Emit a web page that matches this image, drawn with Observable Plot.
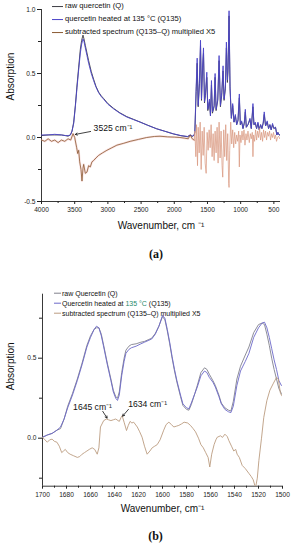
<!DOCTYPE html>
<html><head><meta charset="utf-8">
<script src="https://cdn.jsdelivr.net/npm/d3@7"></script>
<script src="https://cdn.jsdelivr.net/npm/@observablehq/plot@0.6"></script>
<style>
html,body{margin:0;padding:0;background:#fff;}
#wrap{position:relative;width:294px;height:550px;overflow:hidden;font-family:'Liberation Sans',Arial,sans-serif;color:#222;}
#wrap svg{display:block;}
.abs{position:absolute;}
.leg{position:absolute;white-space:nowrap;line-height:1;}
</style>
</head><body>
<div id="wrap"></div>
<script>
// ---------- Panel (a): full range spectra ----------
const aWn = [
4000,3900,3800,3700,3640,3600,3565,3540,3515,3490,
3465,3440,3415,3395,3375,3360,3340,3315,3290,3250,
3215,3180,3140,3100,3065,3000,2915,2820,2715,2615,
2515,2400,2265,2150,2015,1900,1800,1760,1730,1700,
1690,1670,1655,1640,1620,1605,1590,1575,1560,1545,
1530,1510,1495,1470,1455,1440,1425,1400,1385,1370,
1345,1325,1305,1285,1265,1250,1230,1215,1200,1190,
1175,1160,1140,1120,1100,1080,1060,1040,1020,1005,
985,965,945,930,915,890,860,840,815,800,
780,760,740,720,700,680,660,645,625,600,
580,560,540,520,500,475,455,440,420,400];
const aRaw = [
0.015,0.02,0.02,0.02,0.015,0.01,0.02,0.05,0.12,0.25,
0.41,0.55,0.69,0.76,0.80,0.77,0.72,0.66,0.60,0.515,
0.455,0.40,0.355,0.325,0.305,0.265,0.228,0.193,0.163,0.142,
0.121,0.096,0.068,0.05,0.028,0.014,0.006,0.018,0.008,0.018,
0.04,0.36,0.58,0.24,0.42,0.72,0.29,0.52,0.66,0.27,
0.33,0.47,0.21,0.28,0.17,0.41,0.19,0.24,0.47,0.21,
0.29,0.60,0.24,0.33,0.52,0.29,0.38,0.70,0.43,0.52,
0.95,0.38,0.15,0.25,0.12,0.17,0.10,0.13,0.31,0.10,
0.12,0.07,0.11,0.20,0.08,0.10,0.14,0.07,0.24,0.10,
0.11,0.07,0.11,0.06,0.10,0.07,0.11,0.18,0.09,0.12,
0.07,0.10,0.06,0.10,0.07,0.08,0.02,0.04,0.02,0.02];
const aQ135 = [
0.02,0.02,0.025,0.02,0.015,0.015,0.02,0.05,0.11,0.24,
0.39,0.53,0.66,0.73,0.77,0.75,0.70,0.64,0.58,0.50,
0.445,0.395,0.35,0.32,0.30,0.26,0.224,0.19,0.16,0.14,
0.12,0.095,0.068,0.05,0.029,0.015,0.008,0.02,0.01,0.02,
0.05,0.40,0.62,0.25,0.45,0.76,0.30,0.55,0.70,0.28,
0.35,0.51,0.22,0.30,0.17,0.445,0.20,0.25,0.50,0.22,
0.30,0.64,0.25,0.35,0.56,0.30,0.40,0.745,0.45,0.55,
0.99,0.40,0.15,0.265,0.12,0.18,0.10,0.14,0.34,0.10,
0.13,0.07,0.12,0.22,0.08,0.10,0.15,0.07,0.265,0.10,
0.12,0.07,0.12,0.06,0.10,0.07,0.12,0.20,0.09,0.13,
0.07,0.10,0.06,0.11,0.07,0.08,0.02,0.04,0.02,0.02];
const aSubWn = [
4000,3950,3900,3850,3800,3750,3700,3650,3600,3560,
3525,3500,3470,3455,3440,3425,3405,3390,3375,3365,
3340,3315,3290,3265,3240,3215,3180,3140,3080,3015,
2940,2865,2760,2665,2540,2415,2300,2215,2100,2000,
1915,1850,1790,1760,1730,1700,1690,1675,1665,1650,
1640,1625,1610,1595,1580,1565,1550,1535,1520,1505,
1490,1475,1460,1445,1430,1415,1400,1385,1370,1355,
1340,1325,1310,1295,1280,1270,1255,1240,1225,1210,
1195,1180,1175,1165,1150,1135,1120,1105,1090,1075,
1060,1045,1030,1020,1010,995,980,965,950,935,
920,905,890,870,855,840,825,815,805,790,
775,760,745,730,715,700,685,670,655,640,
625,610,595,580,565,550,535,520,505,490,
475,460,445,430,410,400];
const aSub = [
-0.02,-0.03,-0.01,-0.03,-0.02,-0.04,-0.02,-0.03,-0.01,-0.02,
0.03,0.0,-0.08,-0.125,-0.10,-0.19,-0.25,-0.34,-0.24,-0.21,
-0.28,-0.27,-0.22,-0.23,-0.19,-0.18,-0.16,-0.14,-0.12,-0.10,
-0.08,-0.06,-0.045,-0.03,-0.015,0.0,0.008,0.01,0.005,0.003,
0.0,-0.005,-0.01,0.02,-0.01,-0.02,0.05,-0.15,0.10,-0.22,
0.08,-0.12,0.12,-0.25,0.05,-0.14,0.08,-0.20,-0.28,0.04,
-0.10,0.06,-0.08,0.10,-0.15,0.03,-0.18,0.05,-0.12,0.08,
-0.20,0.12,-0.16,0.05,-0.22,-0.31,0.06,-0.15,0.10,-0.18,
0.03,-0.36,-0.39,-0.10,0.12,-0.05,0.06,-0.08,0.04,-0.05,
0.02,-0.03,0.05,-0.23,0.02,-0.04,0.05,-0.02,0.06,-0.06,
0.03,-0.02,0.05,-0.04,0.03,-0.01,0.04,-0.15,0.02,-0.03,
0.06,-0.02,0.05,0.0,0.07,-0.02,0.04,-0.03,0.06,0.0,
0.05,-0.02,0.04,0.01,0.05,-0.02,0.03,0.0,0.04,-0.01,
0.02,-0.03,0.0,0.01,-0.01,0.0];
const aXTicks = [4000,3500,3000,2500,2000,1500,1000,500];
const aXMinor = [3750,3250,2750,2250,1750,1250,750];
const aYTicks = [-0.5,0,0.5,1.0];
const aYMinor = [-0.25,0.25,0.75];
const aLabels = ["raw quercetin (Q)","quercetin heated at 135 °C (Q135)","subtracted spectrum (Q135–Q) multiplied X5"];
const aNote = [{x: 3215, y: 0.072, text: "3525 cm⁻¹"}];
const aArrow = [{x1: 3260, y1: 0.047, x2: 3490, y2: 0.024}];

// ---------- Panel (b): 1700–1500 region ----------
const bWn = [
1700,1696,1692,1688,1685,1682,1679,1675,1671,1667,
1663,1660,1657,1655,1653,1651,1649,1646,1643,1641,
1639,1637.5,1636,1634,1632,1630.5,1628,1626,1622,1618,
1615,1612,1609,1606,1603,1600,1598,1596,1594,1592,
1590,1588,1585,1583,1580,1578,1576,1573,1571,1568,
1565,1563,1561,1558,1556,1553,1551,1548,1545,1543,
1541,1538,1535,1531,1528,1524,1520,1517,1515,1513,
1511,1509,1507,1505,1503,1501,1500];
const bRaw = [
0.006,0.02,0.03,0.05,0.06,0.12,0.20,0.28,0.37,0.47,
0.58,0.64,0.68,0.69,0.69,0.65,0.58,0.47,0.37,0.30,
0.26,0.25,0.29,0.41,0.50,0.55,0.575,0.585,0.59,0.60,
0.605,0.615,0.625,0.655,0.70,0.76,0.74,0.67,0.59,0.50,
0.42,0.35,0.26,0.205,0.18,0.175,0.21,0.28,0.33,0.41,
0.44,0.43,0.40,0.36,0.33,0.27,0.22,0.19,0.175,0.17,
0.23,0.37,0.45,0.52,0.57,0.66,0.71,0.72,0.71,0.65,
0.58,0.50,0.43,0.37,0.31,0.28,0.27];
const bQ135 = [
0.006,0.02,0.03,0.05,0.07,0.12,0.19,0.27,0.36,0.46,
0.57,0.63,0.68,0.70,0.69,0.64,0.57,0.46,0.36,0.29,
0.25,0.236,0.27,0.39,0.48,0.53,0.555,0.565,0.575,0.59,
0.60,0.61,0.62,0.65,0.70,0.767,0.75,0.68,0.60,0.51,
0.43,0.36,0.27,0.215,0.19,0.184,0.22,0.28,0.32,0.39,
0.42,0.41,0.38,0.35,0.32,0.26,0.215,0.18,0.165,0.16,
0.20,0.33,0.42,0.48,0.53,0.63,0.69,0.72,0.725,0.69,
0.63,0.56,0.49,0.43,0.36,0.33,0.33];
const bSubWn = [
1700,1698,1696,1694,1692,1690,1688,1686,1684,1682.5,
1681,1679,1677,1674,1671,1669,1667,1665,1663,1661,
1658.6,1656.5,1654.4,1653,1651.7,1649,1646.7,1645,1643,1641,
1639,1637,1636,1634.5,1633.6,1632,1630,1628.5,1627,1625.5,
1624,1621,1619,1617,1615,1612.8,1610.5,1608.6,1606.5,1604.4,
1602,1599,1597,1594.7,1592.5,1590.6,1588.5,1586.4,1584,1582,
1579,1576.7,1574.5,1572.5,1570,1568,1566,1564,1562,1560.6,
1559,1557,1555.5,1554.4,1551.7,1550,1548,1546,1544.7,1542.5,
1540.6,1539,1537.8,1536,1533.6,1531,1528,1526,1524.4,1522.5,
1521,1519.7,1517.5,1515.6,1513,1510.5,1507.8,1505,1503.5,1501.7,
1500];
const bSub = [
0.006,-0.01,-0.025,-0.01,-0.006,-0.02,-0.025,-0.05,-0.09,-0.08,
-0.07,-0.09,-0.10,-0.11,-0.12,-0.115,-0.10,-0.09,-0.08,-0.07,
-0.06,-0.07,-0.10,-0.06,0.07,0.11,0.12,0.115,0.11,0.115,
0.12,0.11,0.105,0.13,0.14,0.10,0.048,0.08,0.105,0.095,
0.10,0.07,0.04,0.006,-0.05,-0.10,-0.08,-0.06,-0.05,-0.04,
-0.01,0.05,0.085,0.10,0.085,0.07,0.075,0.08,0.09,0.10,
0.095,0.08,0.06,0.04,0.0,-0.04,-0.06,-0.09,-0.12,-0.18,
-0.10,-0.04,-0.01,0.006,0.015,0.005,0.025,0.01,-0.015,-0.05,
-0.08,-0.07,-0.10,-0.12,-0.17,-0.19,-0.22,-0.24,-0.26,-0.31,
-0.25,-0.14,0.0,0.13,0.236,0.30,0.34,0.38,0.37,0.28,
0.26];
const bXTicks = [1700,1680,1660,1640,1620,1600,1580,1560,1540,1520,1500];
const bXMinor = [1690,1670,1650,1630,1610,1590,1570,1550,1530,1510];
const bYTicks = [0,0.5];
const bYMinor = [-0.25,0.25,0.75];
const bLabels = ["raw Quercetin (Q)","Quercetin heated at 135 °C (Q135)","subtracted spectrum (Q135–Q) multiplied X5"];
const bNotes = [{x: 1674.5, y: 0.194, text: "1645 cm⁻¹"}, {x: 1628.6, y: 0.212, text: "1634 cm⁻¹"}];
const bArrows = [{x1: 1649.8, y1: 0.168, x2: 1646.2, y2: 0.126}, {x1: 1628.4, y1: 0.18, x2: 1633.2, y2: 0.138}];

const colA = {raw: "#3c3c44", q135: "#4b44c8", sub: "#8a5a32", subFp: "#d99a82", halo: "#f2a8a8"};
const colB = {raw: "#80808c", q135: "#6c69c8", sub: "#bb9c80"};

const pairs = (xs, ys) => xs.slice(0, Math.min(xs.length, ys.length)).map((x, i) => ({x, y: ys[i]}));
const fmt1 = d => d.toFixed(1);
const font = "'Liberation Sans', Arial, sans-serif";
const aSubAll = pairs(aSubWn, aSub);
const aSubHigh = aSubAll.filter(d => d.x >= 1700);
const aSubLow = aSubAll.filter(d => d.x <= 1700);

const wrap = document.getElementById("wrap");

// Panel (a)
const plotA = Plot.plot({
  width: 294, height: 270,
  marginLeft: 41, marginRight: 14, marginTop: 9, marginBottom: 69,
  x: {domain: [4000, 400], label: null},
  y: {domain: [-0.5, 1.0], label: null},
  style: {fontFamily: font, fontSize: "6.6px", color: "#222", background: "transparent", overflow: "visible"},
  marks: [
    Plot.axisX({ticks: aXTicks, tickSize: 3, tickPadding: 3, tickFormat: d => String(d), label: null}),
    Plot.axisX({ticks: aXMinor, tickSize: 2, tickFormat: () => "", label: null}),
    Plot.axisY({ticks: aYTicks, tickSize: 4, tickPadding: 2, tickFormat: fmt1, label: null}),
    Plot.axisY({ticks: aYMinor, tickSize: 3, tickFormat: () => "", label: null}),
    Plot.ruleX([4000], {stroke: "#222", strokeWidth: 0.9}),
    Plot.ruleY([-0.5], {stroke: "#222", strokeWidth: 0.9}),
    Plot.line(aSubHigh, {x: "x", y: "y", stroke: colA.halo, strokeWidth: 2.2, strokeOpacity: 0.35, clip: true}),
    Plot.line(pairs(aWn, aRaw), {x: "x", y: "y", stroke: colA.raw, strokeWidth: 0.9, clip: true}),
    Plot.line(pairs(aWn, aQ135), {x: "x", y: "y", stroke: colA.q135, strokeWidth: 0.9, clip: true}),
    Plot.line(aSubHigh, {x: "x", y: "y", stroke: colA.sub, strokeWidth: 0.8, clip: true}),
    Plot.line(aSubLow, {x: "x", y: "y", stroke: colA.subFp, strokeWidth: 0.75, clip: true}),
    Plot.arrow(aArrow, {x1: "x1", y1: "y1", x2: "x2", y2: "y2", stroke: "#111", strokeWidth: 0.8, headLength: 4}),
    Plot.text(aNote, {x: "x", y: "y", text: "text", textAnchor: "start", fontSize: 8.6, fill: "#111"}),
    Plot.text(["Absorption"], {frameAnchor: "left", rotate: -90, dx: -31, dy: -5, fontSize: 10, fill: "#111"}),
    Plot.text(["Wavenumber, cm ⁻¹"], {frameAnchor: "bottom", dy: 27, fontSize: 10, fill: "#111"}),
    Plot.text(["(a)"], {frameAnchor: "bottom", dx: -5, dy: 56, fontSize: 12, fontWeight: "bold", fontFamily: "'Liberation Serif', 'Times New Roman', serif", fill: "#111"})
  ]
});
plotA.classList.add("abs");
plotA.style.left = "0px"; plotA.style.top = "0px";
wrap.appendChild(plotA);

// Panel (b)
const plotB = Plot.plot({
  width: 294, height: 280,
  marginLeft: 42, marginRight: 12, marginTop: 23.7, marginBottom: 64.3,
  x: {domain: [1700, 1500], label: null},
  y: {domain: [-0.3, 0.9], label: null},
  style: {fontFamily: font, fontSize: "6.6px", color: "#222", background: "transparent", overflow: "visible"},
  marks: [
    Plot.axisX({ticks: bXTicks, tickSize: 3, tickPadding: 3, tickFormat: d => String(d), label: null}),
    Plot.axisX({ticks: bXMinor, tickSize: 2, tickFormat: () => "", label: null}),
    Plot.axisY({ticks: bYTicks, tickSize: 4, tickPadding: 2, tickFormat: fmt1, label: null}),
    Plot.axisY({ticks: bYMinor, tickSize: 3, tickFormat: () => "", label: null}),
    Plot.ruleX([1700], {stroke: "#222", strokeWidth: 0.9}),
    Plot.ruleY([-0.3], {stroke: "#222", strokeWidth: 0.9}),
    Plot.line(pairs(bWn, bRaw), {x: "x", y: "y", stroke: colB.raw, strokeWidth: 0.9, clip: true}),
    Plot.line(pairs(bWn, bQ135), {x: "x", y: "y", stroke: colB.q135, strokeWidth: 0.9, clip: true}),
    Plot.line(pairs(bSubWn, bSub), {x: "x", y: "y", stroke: colB.sub, strokeWidth: 0.9, clip: true}),
    Plot.arrow(bArrows, {x1: "x1", y1: "y1", x2: "x2", y2: "y2", stroke: "#111", strokeWidth: 0.8, headLength: 4}),
    Plot.text(bNotes, {x: "x", y: "y", text: "text", textAnchor: "start", fontSize: 8.6, fill: "#111"}),
    Plot.text(["Absorption"], {frameAnchor: "left", rotate: -90, dx: -32, dy: 0, fontSize: 10, fill: "#111"}),
    Plot.text(["Wavenumber, cm⁻¹"], {frameAnchor: "bottom", dy: 26, fontSize: 10, fill: "#111"}),
    Plot.text(["(b)"], {frameAnchor: "bottom", dx: -7, dy: 54, fontSize: 12, fontWeight: "bold", fontFamily: "'Liberation Serif', 'Times New Roman', serif", fill: "#111"})
  ]
});
plotB.classList.add("abs");
plotB.style.left = "0px"; plotB.style.top = "270px";
wrap.appendChild(plotB);

// Legends (HTML, placed over the plots)
function legend(labels, colors, top0, step, lineX0, lineX1, textX, size, highlight) {
  labels.forEach((lab, i) => {
    const row = document.createElement("div");
    row.className = "leg";
    const cy = top0 + i * step;
    row.style.top = (cy - size * 0.6) + "px";
    row.style.left = "0px";
    row.style.height = (size * 1.2) + "px";
    row.style.width = "294px";
    const svg = document.createElementNS("http://www.w3.org/2000/svg", "svg");
    svg.setAttribute("width", 294); svg.setAttribute("height", size * 1.2);
    svg.style.position = "absolute"; svg.style.left = "0"; svg.style.top = "0";
    const ln = document.createElementNS("http://www.w3.org/2000/svg", "line");
    ln.setAttribute("x1", lineX0); ln.setAttribute("x2", lineX1);
    ln.setAttribute("y1", size * 0.6); ln.setAttribute("y2", size * 0.6);
    ln.setAttribute("stroke", colors[i]); ln.setAttribute("stroke-width", 1);
    svg.appendChild(ln);
    row.appendChild(svg);
    const t = document.createElement("span");
    t.style.position = "absolute"; t.style.left = textX + "px"; t.style.top = (size * 0.1) + "px";
    t.style.fontSize = size + "px"; t.style.color = "#111";
    if (highlight && lab.includes("135 °C")) {
      const parts = lab.split("135 °C");
      t.append(parts[0]);
      const g = document.createElement("span"); g.style.color = "#1f8a6a"; g.textContent = "135 °C";
      t.append(g); t.append(parts[1]);
    } else {
      t.textContent = lab;
    }
    row.appendChild(t);
    wrap.appendChild(row);
  });
}
legend(aLabels, [colA.raw, colA.q135, colA.sub], 6.3, 12.9, 52, 63, 65, 7.6, false);
legend(bLabels, [colB.raw, colB.q135, colB.sub], 293.5, 10, 54, 61, 62, 7, true);
</script>
</body></html>
